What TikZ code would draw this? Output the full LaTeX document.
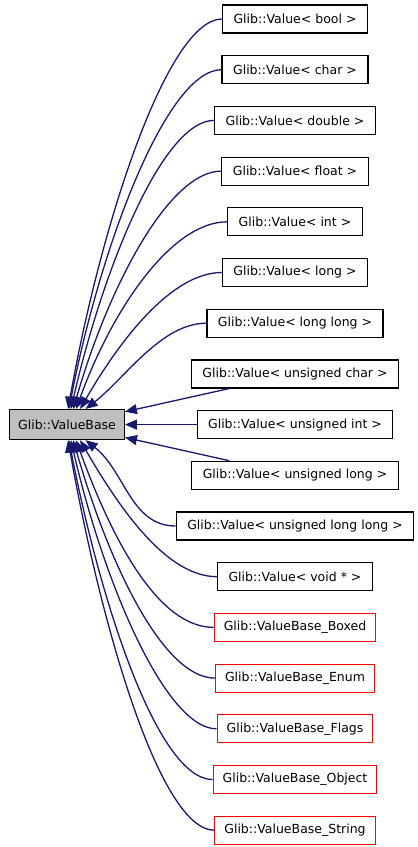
\documentclass[tikz,border=0pt]{standalone}
\usepackage{fontspec}
\setmainfont{DejaVu Sans}
\usetikzlibrary{arrows.meta}
\definecolor{midnightblue}{HTML}{191970}
\tikzset{
  cls/.style={draw=black, fill=white, line width=1.2pt, minimum height=28pt, inner xsep=11pt, inner ysep=0pt, font=\fontsize{12.5}{15}\selectfont},
  trunc/.style={cls, draw=red, inner xsep=9.5pt},
  cur/.style={cls, fill=black!25, inner xsep=8.5pt, minimum height=30pt},
  derive/.style={draw=midnightblue, line width=1.3pt, -{Triangle[length=12pt,width=10pt]}}
}
\begin{document}
\begin{tikzpicture}[x=1pt,y=1pt]
  \useasboundingbox (0,0) rectangle (418,-847);
  \node[cur] (base) at (67,-424.6) {Glib::ValueBase};
  \node[cls] (vbool) at (295,-19.0) {Glib::Value< bool >};
  \node[cls] (vchar) at (295,-69.7) {Glib::Value< char >};
  \node[cls] (vdouble) at (295,-120.4) {Glib::Value< double >};
  \node[cls] (vfloat) at (295,-171.1) {Glib::Value< float >};
  \node[cls] (vint) at (295,-221.8) {Glib::Value< int >};
  \node[cls] (vlong) at (295,-272.5) {Glib::Value< long >};
  \node[cls] (vllong) at (295,-323.2) {Glib::Value< long long >};
  \node[cls] (vuchar) at (295,-373.9) {Glib::Value< unsigned char >};
  \node[cls] (vuint) at (295,-424.6) {Glib::Value< unsigned int >};
  \node[cls] (vulong) at (295,-475.3) {Glib::Value< unsigned long >};
  \node[cls] (vullong) at (295,-526.0) {Glib::Value< unsigned long long >};
  \node[cls] (vvoid) at (295,-576.7) {Glib::Value< void * >};
  \node[trunc] (boxed) at (295,-627.4) {Glib::ValueBase\_Boxed};
  \node[trunc] (enum) at (295,-678.1) {Glib::ValueBase\_Enum};
  \node[trunc] (flags) at (295,-728.8) {Glib::ValueBase\_Flags};
  \node[trunc] (object) at (295,-779.5) {Glib::ValueBase\_Object};
  \node[trunc] (string) at (295,-830.2) {Glib::ValueBase\_String};
  \draw[derive] (vbool.west) to[out=180, in=80, out distance=54pt, in distance=190pt] (base.86);
  \draw[derive] (vchar.west) to[out=180, in=79, out distance=54pt, in distance=170pt] (base.83);
  \draw[derive] (vdouble.west) to[out=180, in=77, out distance=50pt, in distance=150pt] (base.76);
  \draw[derive] (vfloat.west) to[out=180, in=74, out distance=52pt, in distance=128pt] (base.68);
  \draw[derive] (vint.west) to[out=180, in=70, out distance=55pt, in distance=108pt] (base.60);
  \draw[derive] (vlong.west) to[out=180, in=60, out distance=50pt, in distance=80pt] (base.50);
  \draw[derive] (vllong.west) to[out=180, in=38, out distance=45pt, in distance=50pt] (base.40);
  \draw[derive] (vuchar) -- (base);
  \draw[derive] (vuint) -- (base);
  \draw[derive] (vulong) -- (base);
  \draw[derive] (vullong.west) to[out=180, in=-38, out distance=45pt, in distance=50pt] (base.-40);
  \draw[derive] (vvoid.west) to[out=180, in=-60, out distance=50pt, in distance=80pt] (base.-50);
  \draw[derive] (boxed.west) to[out=180, in=-70, out distance=55pt, in distance=108pt] (base.-60);
  \draw[derive] (enum.west) to[out=180, in=-74, out distance=52pt, in distance=128pt] (base.-68);
  \draw[derive] (flags.west) to[out=180, in=-77, out distance=50pt, in distance=150pt] (base.-76);
  \draw[derive] (object.west) to[out=180, in=-79, out distance=54pt, in distance=170pt] (base.-83);
  \draw[derive] (string.west) to[out=180, in=-80, out distance=54pt, in distance=190pt] (base.-86);
\end{tikzpicture}
\end{document}
